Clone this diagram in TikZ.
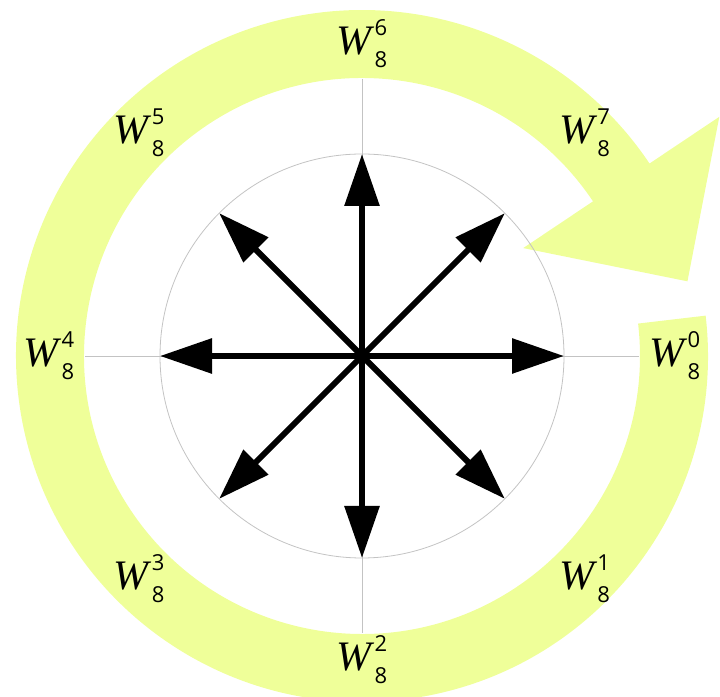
\documentclass[tikz,border=0pt]{standalone}
\usepackage{fontspec}
\newfontfamily\wfont{Liberation Serif}
\newfontfamily\dfont{Open Sans}
\usetikzlibrary{arrows.meta,calc}
\definecolor{ringyellow}{RGB}{239,255,153}
\definecolor{guide}{RGB}{195,195,195}
\newcommand{\wlab}[1]{{\wfont\itshape\fontsize{42pt}{42pt}\selectfont W}\kern3pt\rlap{\raisebox{19pt}{\dfont\fontsize{22pt}{22pt}\selectfont #1}}\raisebox{-13pt}{\dfont\fontsize{22pt}{22pt}\selectfont 8}}
\begin{document}
\begin{tikzpicture}[
  vec/.style={line width=6pt,-{Triangle[length=52pt,width=34pt]}},
  guideline/.style={draw=guide,line width=0.8pt},
  lab/.style={inner sep=0pt}]
\useasboundingbox (0,0) rectangle (720pt,696pt);
\clip (0,0) rectangle (720pt,696pt);
\begin{scope}[shift={(362pt,340pt)}]
\coordinate (O) at (0,0);
% ring arrow
\fill[ringyellow] (6.7:278pt) -- (6.7:346pt)
  arc[start angle=6.7,end angle=-326.2,radius=346pt]
  -- (33.8:430pt) -- ($(33.8:312pt)+(-56.2:119pt)$) -- (33.8:194pt)
  -- (33.8:278pt) arc[start angle=-326.2,end angle=6.7,radius=278pt] -- cycle;
% guides
\coordinate (gl) at (180:277pt);
\coordinate (gr) at (0:277pt);
\coordinate (gt) at (90:277pt);
\coordinate (gb) at (-90:277pt);
\draw[guideline] (O) circle[radius=202pt];
\draw[guideline] (gl) -- (gr);
\draw[guideline] (gt) -- (gb);
% vectors
\foreach \a in {0,45,...,315}{
  \coordinate (t\a) at (\a:202pt);
  \draw[vec] (O) -- (t\a);
}
% labels
\foreach \k/\a/\r in {0/0/313,1/-45/315,2/-90/304,3/-135/315,4/180/313,5/135/315,6/90/312,7/45/315}{
  \node[lab] (w\k) at (\a:\r pt) {\wlab{\k}};
}
\end{scope}
\end{tikzpicture}
\end{document}
